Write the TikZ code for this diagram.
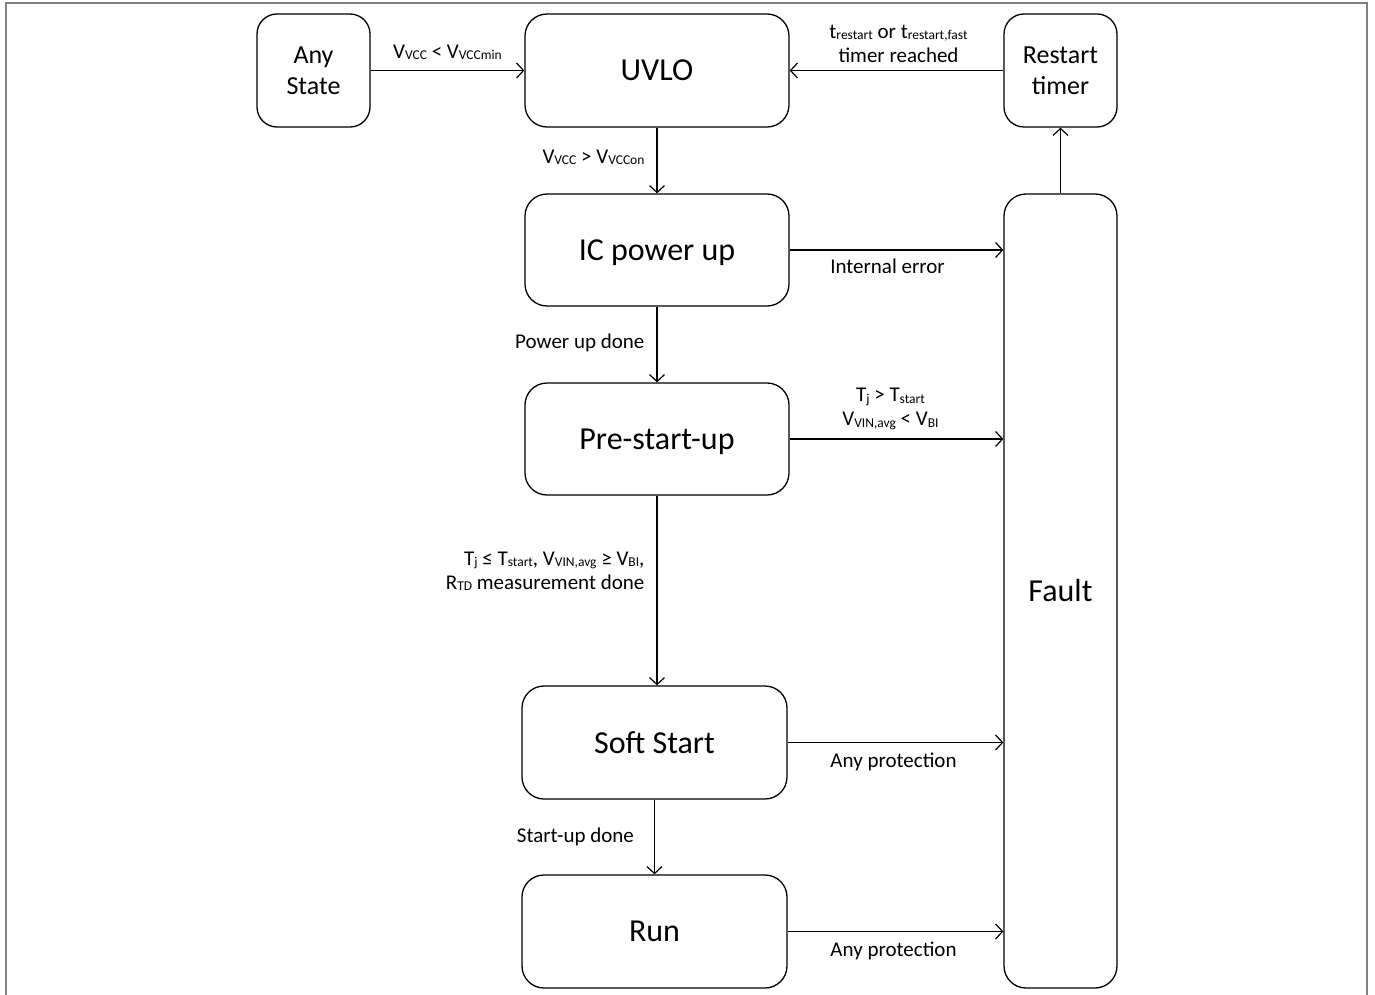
\documentclass[tikz,border=0pt]{standalone}
\usepackage{fontspec}
\setmainfont{Carlito}
\usetikzlibrary{arrows.meta}
\newcommand{\lsub}[1]{\raisebox{-0.12ex}{\fontsize{13.5}{13.5}\selectfont #1}}
\newcommand{\nodepth}[1]{\raisebox{0pt}[\height][0pt]{#1}}
\begin{document}
\begin{tikzpicture}[x=1pt,y=-1pt,
  state/.style={draw=black,line width=1.3pt,rounded corners=22pt,inner sep=0pt,
    align=center,font=\fontsize{32}{38}\selectfont},
  small/.style={state,rounded corners=20pt,font=\fontsize{26}{31}\selectfont},
  lbl/.style={inner sep=0pt,align=center,font=\fontsize{21}{24}\selectfont},
  arr/.style={line width=1.2pt,-{Straight Barb[length=7pt,width=15pt,line width=1.2pt]}},
  frame/.style={draw=black!50,line width=2pt}]
\useasboundingbox (0,0) rectangle (1375,995);
\draw[frame] (6,995) -- (6,3.5) -- (1367,3.5) -- (1367,995);
% states
\node[small,minimum width=113pt,minimum height=113pt] (any) at (313.5,70.5) {Any\\State};
\node[state,minimum width=264pt,minimum height=113pt] (uvlo) at (657,70.5) {UVLO};
\node[small,minimum width=113pt,minimum height=113pt] (restart) at (1060.5,70.5) {Restart\\timer};
\node[state,minimum width=264pt,minimum height=112pt] (ic) at (657,250) {\nodepth{IC power up}};
\node[state,minimum width=264pt,minimum height=112pt] (pre) at (657,439) {\nodepth{Pre-start-up}};
\node[state,minimum width=265pt,minimum height=113pt] (soft) at (654.5,742.5) {Soft Start};
\node[state,minimum width=265pt,minimum height=113pt] (run) at (654.5,931.5) {Run};
\node[state,minimum width=113pt,minimum height=794pt] (fault) at (1060.5,591) {Fault};
% connectors
\draw[arr] (any) -- node[lbl,above=10pt] {V\lsub{VCC} < V\lsub{VCCmin}} (uvlo);
\draw[arr] (restart) -- node[lbl,above=7pt,xshift=2pt] {t\lsub{restart} or t\lsub{restart,fast}\\timer reached} (uvlo);
\draw[arr] (uvlo) -- node[lbl,left=12pt,yshift=3pt] {V\lsub{VCC} > V\lsub{VCCon}} (ic);
\draw[arr] (ic.east) -- node[lbl,below=8pt,xshift=-9pt] {Internal error} (ic.east -| fault.west);
\draw[arr] (ic) -- node[lbl,left=12pt,yshift=2pt] {Power up done} (pre);
\draw[arr] (pre.east) -- node[lbl,above=9pt,xshift=-6pt] {T\lsub{j} > T\lsub{start}\\V\lsub{VIN,avg} < V\lsub{BI}} (pre.east -| fault.west);
\draw[arr] (pre.south) -- node[lbl,left=12pt,pos=0.40,align=right] {T\lsub{j} ≤ T\lsub{start}, V\lsub{VIN,avg} ≥ V\lsub{BI},\\R\lsub{TD} measurement done} (pre.south |- soft.north);
\draw[arr] (soft.east) -- node[lbl,below=10pt,xshift=-2pt] {Any protection} (soft.east -| fault.west);
\draw[arr] (soft) -- node[lbl,left=20pt] {Start-up done} (run);
\draw[arr] (run.east) -- node[lbl,below=10pt,xshift=-2pt] {Any protection} (run.east -| fault.west);
\draw[arr] (fault.north -| restart) -- (restart);
\end{tikzpicture}
\end{document}
